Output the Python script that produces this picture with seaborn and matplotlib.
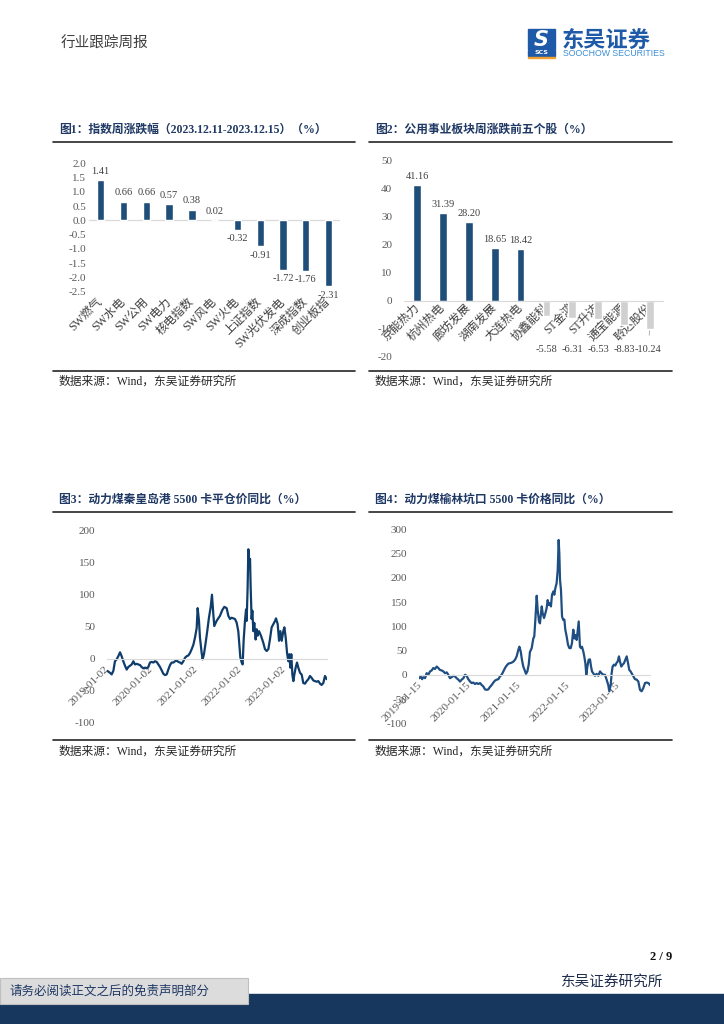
import matplotlib
matplotlib.use("Agg")
import matplotlib.pyplot as plt
import matplotlib.dates as mdates
from matplotlib.patches import Rectangle
from matplotlib.ticker import FormatStrFormatter
import numpy as np
import pandas as pd
import seaborn as sns

sns.set_style("white")
plt.rcParams["font.family"] = ["Liberation Serif", "Noto Sans CJK SC"]
plt.rcParams["axes.unicode_minus"] = False

# 图1 指数周涨跌幅
idx_names = ["SW燃气", "SW水电", "SW公用", "SW电力", "核电指数", "SW风电",
             "SW火电", "上证指数", "SW光伏发电", "深成指数", "创业板指"]
idx_chg = [1.41, 0.66, 0.66, 0.57, 0.38, 0.02, -0.32, -0.91, -1.72, -1.76, -2.31]

# 图2 公用事业板块个股
stock_names = ["京能热力", "杭州热电", "廊坊发展", "湖南发展", "大连热电",
               "协鑫能科", "ST金鸿", "ST升达", "通宝能源", "聆达股份"]
stock_chg = [41.16, 31.39, 28.20, 18.65, 18.42, -5.58, -6.31, -6.53, -8.83, -10.24]

# 图3 秦皇岛港 5500 平仓价同比
qhd_dates = [
    "2019-01-02", "2019-01-24", "2019-02-07", "2019-02-21", "2019-03-06", "2019-03-20",
    "2019-04-03", "2019-04-17", "2019-04-30", "2019-05-14", "2019-05-28", "2019-06-11",
    "2019-06-24", "2019-07-08", "2019-07-22", "2019-08-05", "2019-08-18", "2019-09-01",
    "2019-09-15", "2019-09-29", "2019-10-12", "2019-10-26", "2019-11-09", "2019-11-23",
    "2019-12-06", "2019-12-20",
    "2020-01-03", "2020-01-17", "2020-01-30", "2020-02-13", "2020-02-27", "2020-03-12",
    "2020-03-25", "2020-04-08", "2020-04-22", "2020-05-06", "2020-05-19", "2020-06-02",
    "2020-06-16", "2020-06-30", "2020-07-13", "2020-07-27", "2020-08-10", "2020-08-24",
    "2020-09-06", "2020-09-20", "2020-10-04", "2020-10-18", "2020-10-31", "2020-11-14",
    "2020-11-28", "2020-12-12", "2020-12-25",
    "2021-01-08", "2021-01-16", "2021-01-27", "2021-02-04", "2021-02-18", "2021-02-26",
    "2021-03-09", "2021-03-23", "2021-04-05", "2021-04-19", "2021-05-03", "2021-05-14",
    "2021-05-25", "2021-06-02", "2021-06-21", "2021-07-19", "2021-08-07", "2021-08-24",
    "2021-09-12", "2021-09-26", "2021-10-10", "2021-10-23", "2021-11-06", "2021-11-20",
    "2021-12-04", "2021-12-17", "2021-12-26",
    "2022-01-03", "2022-01-14", "2022-01-22", "2022-01-30", "2022-02-10", "2022-02-19",
    "2022-02-24", "2022-03-04", "2022-03-10", "2022-03-18", "2022-03-24", "2022-03-29",
    "2022-04-06", "2022-04-12", "2022-04-20", "2022-04-28", "2022-05-09", "2022-05-18",
    "2022-05-26", "2022-06-06", "2022-06-22", "2022-07-11", "2022-07-25", "2022-08-08",
    "2022-08-22", "2022-09-04", "2022-09-18", "2022-10-02", "2022-10-16", "2022-10-24",
    "2022-11-07", "2022-11-18", "2022-11-29", "2022-12-10", "2022-12-23",
    "2023-01-01", "2023-01-12", "2023-01-23", "2023-02-03", "2023-02-11", "2023-02-19",
    "2023-02-27", "2023-03-08", "2023-03-16", "2023-03-24", "2023-04-04", "2023-04-15",
    "2023-04-26", "2023-05-10", "2023-05-24", "2023-06-06", "2023-06-20", "2023-07-04",
    "2023-07-18", "2023-07-31", "2023-08-14", "2023-08-28", "2023-09-10", "2023-09-24",
    "2023-10-08", "2023-10-22", "2023-11-04", "2023-11-18", "2023-12-02", "2023-12-16",
]
qhd_yoy = [
    -19, -22, -24.5, -19, -4, -1, 4, 10, 4, -4, -11, -17, -13, -11, -9, -4, -9, -8,
    -9, -10, -13, -15, -14, -15, -13, -6,
    -5, -6, -4, -5, -9, -13, -18, -23.5, -25.6, -24.5, -17, -10, -6, -6, -4, -3, -5, -6,
    -8, -4, 1.5, 4, 5, 9, 15, 22, 33,
    48, 79, 59, 33, 9, -1, 7, 25, 43, 64, 80, 100, 70, 51, 59, 67, 76, 81,
    79, 67, 62, 64, 63, 62, 56, 43, 22,
    2, -6, -9, 28, 59, 77, 59, 111, 171, 148, 156, 111, 62, 75, 43, 56, 30, 46,
    36, 43, 36, 25, 15, 12, 15, 30, 49, 54, 59, 63, 54, 28, 43, 28, 43,
    49, 33, 9, -4, 7, -14, 7, -25, -35, -25, -14, -6, -14, -22, -25, -38, -39, -35,
    -32, -27, -30, -34, -35, -36, -35, -39, -41, -38, -27, -32,
]
qhd_ticks = ["2019-01-02", "2020-01-02", "2021-01-02", "2022-01-02", "2023-01-02"]

# 图4 榆林坑口 5500 价格同比
yl_dates = [
    "2019-01-08", "2019-01-18", "2019-01-28", "2019-02-06", "2019-02-19", "2019-03-03",
    "2019-03-15", "2019-03-28", "2019-04-09", "2019-04-21", "2019-05-03", "2019-05-16",
    "2019-05-28", "2019-06-09", "2019-06-22", "2019-07-04", "2019-07-16", "2019-07-29",
    "2019-08-10", "2019-08-22", "2019-09-03", "2019-09-16", "2019-09-28", "2019-10-10",
    "2019-10-23", "2019-11-04", "2019-11-16", "2019-11-29", "2019-12-11", "2019-12-23",
    "2020-01-04", "2020-01-17", "2020-01-29", "2020-02-10", "2020-02-23", "2020-03-06",
    "2020-03-18", "2020-03-31", "2020-04-12", "2020-04-24", "2020-05-06", "2020-05-19",
    "2020-05-31", "2020-06-12", "2020-06-25", "2020-07-07", "2020-07-19", "2020-08-01",
    "2020-08-13", "2020-08-25", "2020-09-06", "2020-09-19", "2020-10-01", "2020-10-13",
    "2020-10-26", "2020-11-07", "2020-11-19", "2020-12-01", "2020-12-14", "2020-12-26",
    "2021-01-07", "2021-01-15", "2021-01-25", "2021-02-03", "2021-02-13", "2021-02-26",
    "2021-03-05", "2021-03-15", "2021-03-25", "2021-04-03", "2021-04-16", "2021-04-28",
    "2021-05-05", "2021-05-13", "2021-05-23", "2021-05-30", "2021-06-09", "2021-06-16",
    "2021-06-29", "2021-07-06", "2021-07-16", "2021-07-26", "2021-08-04", "2021-08-12",
    "2021-08-19", "2021-08-29", "2021-09-05", "2021-09-13", "2021-09-23", "2021-09-30",
    "2021-10-07", "2021-10-17", "2021-10-25", "2021-11-01", "2021-11-06", "2021-11-11",
    "2021-11-18", "2021-11-26", "2021-12-05", "2021-12-13", "2021-12-20", "2021-12-30",
    "2022-01-09", "2022-01-19", "2022-01-29", "2022-02-07", "2022-02-17", "2022-02-25",
    "2022-03-04", "2022-03-14", "2022-03-21", "2022-03-29", "2022-04-07", "2022-04-15",
    "2022-04-22", "2022-05-02", "2022-05-09", "2022-05-17", "2022-05-24", "2022-06-01",
    "2022-06-10", "2022-06-20", "2022-06-28", "2022-07-05", "2022-07-15", "2022-07-27",
    "2022-08-08", "2022-08-21", "2022-09-02", "2022-09-14", "2022-09-27", "2022-10-09",
    "2022-10-21", "2022-11-02", "2022-11-10", "2022-11-20", "2022-11-27", "2022-12-04",
    "2022-12-14", "2022-12-24",
    "2023-01-03", "2023-01-10", "2023-01-20", "2023-01-28", "2023-02-06", "2023-02-16",
    "2023-02-26", "2023-03-08", "2023-03-18", "2023-03-28", "2023-04-06", "2023-04-16",
    "2023-04-26", "2023-05-06", "2023-05-18", "2023-05-31", "2023-06-12", "2023-06-24",
    "2023-07-06", "2023-07-19", "2023-07-31", "2023-08-12", "2023-08-25", "2023-09-06",
]
yl_yoy = [
    -7, -3.4, -9, -5, -7, 3.4, 0, 7, 9, 14, 12, 17, 14, 10, 9, 7, 3.4, 5, 0, -7, -5,
    -2, -3.4, -7, -10, -14, -10, -7, 0, -2,
    -9, -14, -17, -16, -19, -17, -19, -17, -21, -24, -30, -31, -30, -25, -21, -16, -12,
    -10, -9, -3.4, 0, 7, 14, 19, 23, 24, 25, 27, 31, 38,
    51, 58, 48, 31, 17, 7, 2, 7, 21, 47, 55, 75, 79, 113, 163, 134, 110, 106, 141,
    127, 117, 127, 137, 154, 144, 148, 141, 165, 172, 165, 178, 189, 216, 278, 250,
    196, 175, 120, 113, 114, 93, 79,
    62, 55, 55, 65, 93, 75, 82, 72, 89, 110, 58, 55, 58, 48, 38, 24, 0, 17, 31, 32,
    17, 7, 3, -2, 2, -2, 7, 3, 0, 0, -10, -21, -34, -21, 3, 17, 21, 19,
    25, 27, 38, 27, 17, 21, 24, 31, 38, 24, 10, 7, 2, -3, -9, -10, -14, -31, -34, -27,
    -17, -16, -17, -21,
]
yl_ticks = ["2019-01-15", "2020-01-15", "2021-01-15", "2022-01-15", "2023-01-15"]

NAVY = "#1f4e79"
LIGHT = "#d0d0d0"
GRID = "#d9d9d9"
TICK = "#595959"
TXT = "#404040"
TITLE = "#1f3864"

W, H = 724, 1024
fig = plt.figure(figsize=(7.24, 10.24), dpi=100)
bg = fig.add_axes([0, 0, 1, 1])
bg.set_xlim(0, W)
bg.set_ylim(H, 0)
bg.axis("off")


def place(x0, y0, x1, y1):
    ax = fig.add_axes([x0 / W, 1 - y1 / H, (x1 - x0) / W, (y1 - y0) / H])
    ax.set_facecolor("none")
    for s in ax.spines.values():
        s.set_visible(False)
    return ax


def frame(x0, x1, title, top, bottom):
    # title, rule under the title, rule above the source note
    bg.text(x0 + 6, top, title, fontsize=8.5, fontweight="bold", color=TITLE, va="center")
    bg.plot([x0, x1], [top + 11.5, top + 11.5], color="#262626", lw=1.2)
    bg.plot([x0, x1], [bottom, bottom], color="#262626", lw=1.2)
    bg.text(x0 + 6, bottom + 11.5, "数据来源：Wind，东吴证券研究所", fontsize=8.5,
            color="#262626", va="center")


# header
bg.text(61, 44, "行业跟踪周报", fontsize=10.5, color=TXT, va="center",
        family=["Noto Sans CJK SC"])
bg.add_patch(Rectangle((528, 29), 27, 20, color="#1e5aa8"))
bg.text(541.5, 39.5, "S", fontsize=15, fontweight="bold", style="italic", color="white",
        ha="center", va="center", family=["DejaVu Sans"])
bg.add_patch(Rectangle((528, 50), 27, 5.5, color="#1e5aa8"))
bg.text(541.5, 52.8, "SCS", fontsize=4.5, fontweight="bold", color="white",
        ha="center", va="center", family=["DejaVu Sans"])
bg.add_patch(Rectangle((528, 56.5), 27, 1.5, color="#f0a030"))
bg.text(562, 40, "东吴证券", fontsize=16, fontweight="bold", color="#1e5aa8", va="center",
        family=["Noto Sans CJK SC"])
bg.text(563, 54, "SOOCHOW SECURITIES", fontsize=6.3, color="#3d8fd6", va="center",
        family=["Liberation Sans"])

frame(53, 355, "图1：指数周涨跌幅（2023.12.11-2023.12.15）（%）", 130, 370.5)
frame(369, 672, "图2：公用事业板块周涨跌前五个股（%）", 130, 370.5)
frame(53, 355, "图3：动力煤秦皇岛港 5500 卡平仓价同比（%）", 500, 740)
frame(369, 672, "图4：动力煤榆林坑口 5500 卡价格同比（%）", 500, 740)

# chart 1
ax1 = place(89.3, 163.4, 340, 291.8)
sns.barplot(x=idx_names, y=idx_chg, color=NAVY, width=0.32, saturation=1, ax=ax1)
ax1.axhline(0, color=GRID, lw=0.9, zorder=0)
ax1.set_xlim(-0.5, len(idx_names) - 0.5)
ax1.set_ylim(-2.5, 2.0)
ax1.set_yticks(np.arange(-2.5, 2.01, 0.5))
ax1.yaxis.set_major_formatter(FormatStrFormatter("%.1f"))
ax1.bar_label(ax1.containers[0], labels=[f"{v:.2f}" for v in idx_chg], padding=3,
              fontsize=7.5, color=TXT)
ax1.tick_params(axis="y", length=0, pad=2.4, labelsize=8, labelcolor=TICK)
ax1.tick_params(axis="x", length=0, pad=6, labelsize=8.5, labelcolor=TXT)
plt.setp(ax1.get_xticklabels(), rotation=45, ha="right", va="center", rotation_mode="anchor")
ax1.set_xlabel("")
ax1.set_ylabel("")

# chart 2
df2 = pd.DataFrame({"name": stock_names, "chg": stock_chg,
                    "dir": ["up" if v > 0 else "down" for v in stock_chg]})
ax2 = place(404.3, 160.7, 662.7, 356.7)
sns.barplot(data=df2, x="name", y="chg", hue="dir", palette={"up": NAVY, "down": LIGHT},
            dodge=False, width=0.30, saturation=1, legend=False, ax=ax2)
ax2.set_xlim(-0.5, len(stock_names) - 0.5)
ax2.set_ylim(-20, 50)
ax2.set_yticks(range(-20, 51, 10))
ax2.spines["bottom"].set_visible(True)
ax2.spines["bottom"].set_position(("data", 0))
ax2.spines["bottom"].set_color(GRID)
ax2.bar_label(ax2.containers[0], fmt="%.2f", padding=3, fontsize=7.5, color=TXT)
for i, v in enumerate(stock_chg):
    if v < 0:
        if v < -10:
            ax2.annotate(f"{v:.2f}", xy=(i, v), xytext=(i - 0.08, -17.6), ha="center",
                         va="center", fontsize=7.5, color=TXT,
                         arrowprops=dict(arrowstyle="-", color="#a6a6a6", lw=0.6,
                                         shrinkA=5, shrinkB=1))
        else:
            ax2.text(i, -17.6, f"{v:.2f}", ha="center", va="center", fontsize=7.5, color=TXT)
ax2.tick_params(axis="y", length=0, pad=8.6, labelsize=8, labelcolor=TICK)
ax2.tick_params(axis="x", length=0, pad=4, labelsize=8.5, labelcolor=TXT)
plt.setp(ax2.get_xticklabels(), rotation=45, ha="right", va="center", rotation_mode="anchor")
ax2.set_xlabel("")
ax2.set_ylabel("")


def line_panel(ax, dates, vals, ticks, ymax, color):
    df = pd.DataFrame({"date": pd.to_datetime(dates), "yoy": vals})
    sns.lineplot(data=df, x="date", y="yoy", color=color, lw=1.6, ax=ax)
    ax.set_xlim(df["date"].min(), df["date"].max())
    ax.set_ylim(-100, ymax)
    ax.set_yticks(range(-100, ymax + 1, 50))
    ax.set_xticks(pd.to_datetime(ticks))
    ax.xaxis.set_major_formatter(mdates.DateFormatter("%Y-%m-%d"))
    ax.spines["bottom"].set_visible(True)
    ax.spines["bottom"].set_position(("data", 0))
    ax.spines["bottom"].set_color(GRID)
    ax.tick_params(axis="y", length=0, pad=8.7, labelsize=8, labelcolor=TICK)
    ax.tick_params(axis="x", length=2.5, color=GRID, pad=4, labelsize=8, labelcolor=TICK)
    plt.setp(ax.get_xticklabels(), rotation=45, ha="right", va="center",
             rotation_mode="anchor")
    ax.set_xlabel("")
    ax.set_ylabel("")


ax3 = place(107.3, 530.7, 326.7, 722.7)
line_panel(ax3, qhd_dates, qhd_yoy, qhd_ticks, 200, "#0e3d6b")
ax4 = place(419.35, 529.3, 650, 723.3)
line_panel(ax4, yl_dates, yl_yoy, yl_ticks, 300, "#1f4e82")

# footer
bg.text(672, 957, "2 / 9", fontsize=9, fontweight="bold", ha="right", va="center",
        color="#111111")
bg.text(561, 982, "东吴证券研究所", fontsize=10.5, color="#1f2d4d", va="center",
        family=["Noto Sans CJK SC"])
bg.add_patch(Rectangle((0, 994), W, 30, color="#17375e", zorder=1))
bg.add_patch(Rectangle((0, 978), 248, 26, facecolor="#dcdcdc", edgecolor="#bfbfbf",
                       lw=0.8, zorder=2))
bg.text(9, 991, "请务必阅读正文之后的免责声明部分", fontsize=9, color=TITLE, va="center",
        zorder=3, family=["Noto Sans CJK SC"])

fig.savefig("out.png", dpi=100)
